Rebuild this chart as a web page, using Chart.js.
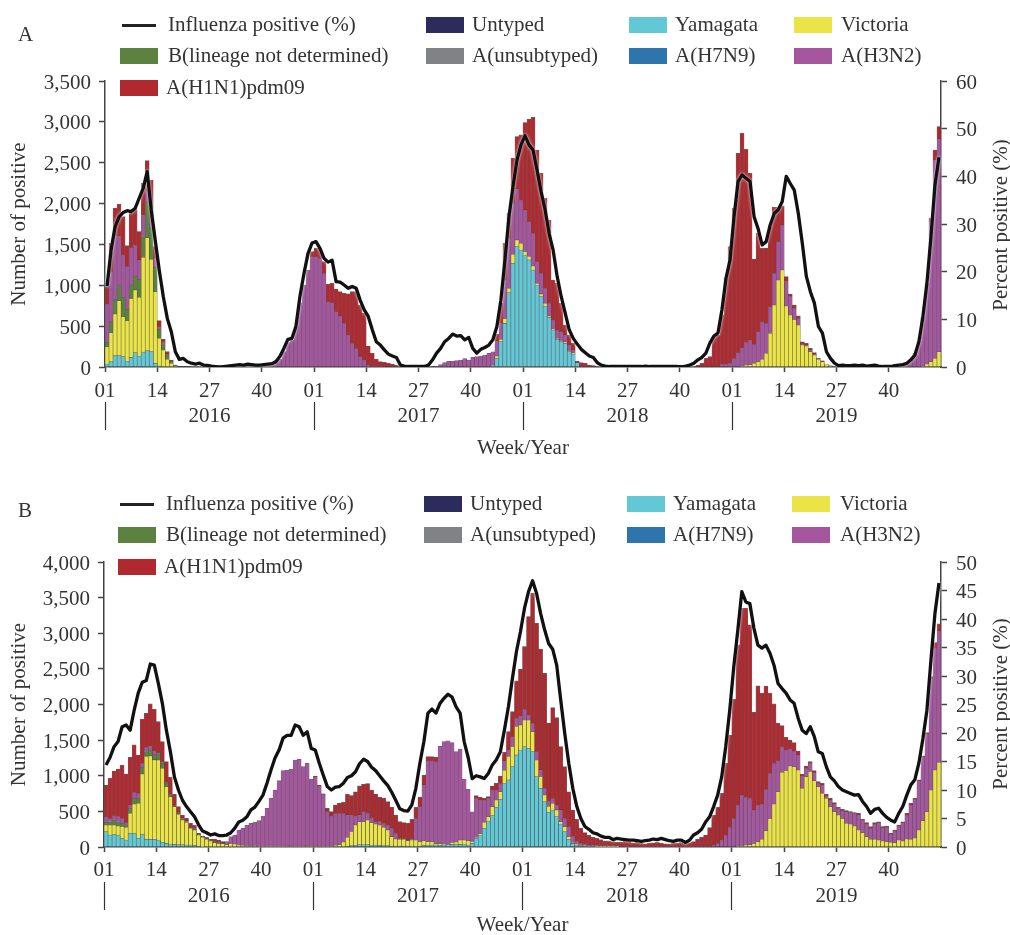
<!DOCTYPE html>
<html>
<head>
<meta charset="utf-8">
<script src="https://cdn.jsdelivr.net/npm/chart.js@4"></script>
<style>
html,body{margin:0;padding:0;background:#fff;}
#page{position:relative;width:1010px;height:935px;overflow:hidden;font-family:"Liberation Serif",serif;color:#333;font-size:21px;}
canvas{position:absolute;left:0;}
.t{position:absolute;white-space:nowrap;line-height:24px;}
.s{position:absolute;width:38px;height:16px;}
.l{position:absolute;width:34px;height:3px;background:#222;}
.r{position:absolute;white-space:nowrap;line-height:24px;transform:translate(-50%,-50%) rotate(-90deg);}
</style>
</head>
<body>
<div id="page">
<canvas id="cA" width="1010" height="465" style="top:0"></canvas>
<canvas id="cB" width="1010" height="470" style="top:470px"></canvas>
</div>
<script>
const years = ['2016','2017','2018','2019'];
const weeksPerYear = 52;
const seriesNames = ['Yamagata','Victoria','B(lineage not determined)','Untyped','A(unsubtyped)','A(H7N9)','A(H3N2)','A(H1N1)pdm09'];
const seriesColors = ['#62c8d6','#ebe446','#5b823f','#2b2c5c','#808285','#2e74ad','#a5569f','#b2282f'];
const lineName = 'Influenza positive (%)';

// Untyped, A(unsubtyped) and A(H7N9) are too small to read on either panel.
const untyped = [];
const aUnsubtyped = [];
const aH7N9 = [];

const aYamagata = [
37,65,139,139,126,65,118,175,135,184,200,188,45,
12,0,0,0,0,0,0,0,0,0,0,0,0,
0,0,0,0,0,0,0,0,0,0,0,0,0,
0,0,0,0,0,0,0,0,0,0,0,0,0,
0,0,0,0,0,0,0,0,0,0,0,0,0,
0,0,0,0,0,0,0,0,0,0,0,0,0,
0,0,0,0,0,0,0,0,0,0,0,0,0,
0,0,0,0,0,24,106,310,534,910,1269,1473,1432,
1371,1310,1187,1004,861,747,608,453,339,310,290,188,159,
53,0,0,0,0,0,0,0,0,0,0,0,0,
0,0,0,0,0,0,0,0,0,0,0,0,0,
0,0,0,0,0,0,0,0,0,0,0,0,0,
0,0,0,0,0,0,0,0,0,0,0,0,0,
0,0,0,0,0,0,0,0,0,0,0,0,0,
0,0,0,0,0,0,0,0,0,0,0,0,0,
0,0,0,0,0,0,0,0,0,0,0,0,0];
const aVictoria = [
212,355,510,673,490,502,722,767,718,1159,1383,1130,877,
339,208,94,45,12,0,0,0,0,0,0,0,0,
0,0,0,0,0,0,0,0,0,0,0,0,0,
0,0,0,0,0,0,0,0,0,0,0,0,0,
0,0,0,0,0,0,0,0,0,0,0,0,0,
0,0,0,0,0,0,0,0,0,0,0,0,0,
0,0,0,0,0,0,0,0,0,0,0,0,0,
0,0,0,0,0,0,29,29,61,53,110,82,82,
41,41,49,20,33,33,16,12,12,12,16,12,8,
0,0,0,0,0,0,0,0,0,0,0,0,0,
0,0,0,0,0,0,0,0,0,0,0,0,0,
0,0,0,0,0,0,0,0,0,0,0,0,0,
0,0,12,24,29,45,65,94,167,412,759,1065,1187,
747,636,583,514,269,257,188,147,94,65,37,16,0,
0,0,0,0,0,0,0,0,0,0,0,0,0,
0,0,0,0,0,0,0,0,12,37,65,106,188];
const aBLineage = [
53,135,180,192,237,139,163,171,220,253,428,379,298,
110,61,41,20,8,0,0,0,0,0,0,0,0,
0,0,0,0,0,0,0,0,0,0,0,0,0,
0,0,0,0,0,0,0,0,0,0,0,0,0,
0,0,0,0,0,0,0,0,0,0,0,0,0,
0,0,0,0,0,0,0,0,0,0,0,0,0,
0,0,0,0,0,0,0,0,0,0,0,0,0,
0,0,0,0,0,0,0,0,0,0,0,0,0,
0,0,0,0,0,0,0,0,0,0,0,0,0,
0,0,0,0,0,0,0,0,0,0,0,0,0,
0,0,0,0,0,0,0,0,0,0,0,0,0,
0,0,0,0,0,0,0,0,0,0,0,0,0,
0,0,0,0,0,0,0,0,0,0,0,0,0,
0,0,0,0,0,0,0,0,0,0,0,0,0,
0,0,0,0,0,0,0,0,0,0,0,0,0,
0,0,0,0,0,0,0,0,0,0,0,0,0];
const aH3N2 = [
469,604,767,592,510,522,457,371,237,257,147,122,110,
33,41,20,8,4,0,0,0,0,0,0,0,0,
0,0,0,0,0,0,0,0,0,0,0,0,0,
0,24,53,86,94,188,298,330,494,779,1004,1187,1350,
1350,1330,1146,800,787,677,624,534,392,290,228,126,86,
24,12,8,4,0,0,0,0,0,0,0,0,0,
0,0,0,0,12,29,53,69,73,78,86,102,86,
118,126,135,147,167,163,184,196,469,612,624,624,530,
510,428,400,265,253,184,155,110,102,110,86,69,41,
12,0,0,0,0,0,0,0,0,0,0,0,0,
0,0,0,0,0,0,0,0,0,0,0,0,0,
0,0,0,0,0,0,0,0,0,0,37,37,45,
106,175,228,273,294,233,367,461,367,326,388,469,551,
298,224,135,82,20,12,20,12,12,0,0,0,0,
0,0,0,0,0,0,0,0,0,0,0,0,0,
0,0,12,24,45,86,167,310,604,987,1714,2428,2603];
const aH1N1 = [
204,355,347,396,477,257,420,445,347,396,367,469,143,
73,29,33,12,0,0,0,0,0,0,0,0,0,
0,0,0,0,0,0,0,0,0,0,0,0,0,
0,0,0,0,0,0,0,0,0,0,0,0,61,
102,114,143,212,237,277,298,367,502,632,694,632,571,
233,155,86,61,57,45,33,20,12,0,0,0,0,
0,0,0,0,0,0,0,0,0,0,0,0,0,
0,0,0,0,0,0,82,245,449,306,551,641,796,
1069,1253,1420,1367,1224,1102,1020,490,571,347,122,122,82,
8,53,45,24,16,0,0,0,0,0,0,0,0,
0,0,0,0,0,0,0,0,0,0,0,0,0,
0,0,0,0,24,45,106,126,379,392,600,1049,1428,
1836,2440,2619,2366,2048,1040,1204,898,918,979,808,420,233,
61,33,41,29,20,20,20,16,0,12,0,0,0,
0,0,0,0,0,0,0,0,0,0,0,0,0,
0,0,0,0,0,0,0,0,0,0,41,122,151];
const aPercent = [
16.9,24.5,29.4,31.5,32.4,32.8,32.6,33.3,35.4,37.5,41,33,26.6,
20.3,14.8,10.2,7.4,3.2,1.6,1.8,1.1,.8,.6,.8,.4,.35,
.2,.1,0,.1,.2,.3,.4,.5,.4,.6,.5,.4,.4,
.5,.6,.7,1.1,2.2,3.9,5.8,6,8.5,14.8,19.6,23.8,26,
26.3,24.9,22.8,22,22.4,17.9,17.8,17.2,16.5,16.9,16.5,14,12,
10.6,7.8,5.3,4.6,3.6,2.7,2.3,2,.4,.2,.1,.1,.1,
.1,.1,.4,1.5,2.9,3.9,5.3,6,6.9,6.5,6.6,5.7,6.2,
3.9,2.9,3.7,4.1,4.6,5.7,8.5,14,22.4,31.5,37.8,43.4,46.6,
48.5,46.6,45.5,41.3,36.8,33,28,24.5,19,14.8,11.3,7.8,6,
4.8,3.7,3,2.3,2,.9,.4,.2,.1,.1,.1,.1,.1,
.1,.1,.1,.1,.2,.1,.1,.1,.1,.1,.1,.1,.1,
.05,.2,.4,.8,1.5,2,2.9,5,6.5,7.1,12,18.6,22.4,
31.5,38.9,40.3,39.6,38.9,31.5,29,25.6,26.3,29.8,32.2,33,34.7,
40,38.5,37.1,32.2,25.9,19,15.8,13.4,8.5,7.1,3.2,1.8,.8,
.3,.4,.3,.3,.4,.3,.4,.2,.3,.4,.2,.1,.1,
.1,.3,.4,.5,.8,1.5,2.5,5.3,10.6,17.6,27.3,38.2,44];

const bYamagata = [
215,168,178,168,122,98,192,192,122,178,108,108,108,
98,66,51,42,37,33,33,28,28,23,14,5,0,
0,0,0,0,0,0,0,0,0,0,0,0,0,
0,0,0,0,0,0,0,0,0,0,0,0,0,
0,0,0,0,0,0,0,0,14,19,23,33,33,
33,28,28,23,19,19,14,14,14,14,14,9,9,
14,23,19,28,28,23,28,33,37,33,37,42,28,
51,122,168,262,356,440,557,669,889,941,1128,1292,1362,
1409,1385,1338,987,824,636,487,519,426,323,215,108,51,
28,19,14,9,9,5,5,5,5,5,5,0,0,
0,0,0,0,0,0,0,0,0,0,0,0,0,
0,0,0,0,0,0,0,0,0,0,0,0,0,
0,0,0,0,0,0,0,0,0,0,0,0,0,
0,0,0,0,0,0,0,0,0,0,0,0,0,
0,0,0,0,0,0,0,0,0,0,0,0,0,
0,0,0,0,0,0,0,0,0,0,0,0,0];
const bVictoria = [
94,140,131,126,164,178,281,412,491,847,1161,1170,1114,
1123,1039,796,665,529,426,346,318,234,215,154,131,108,
84,61,51,47,33,51,42,28,23,19,14,19,14,
9,9,9,9,9,9,14,14,9,9,14,14,9,
14,14,9,9,14,23,33,70,122,197,285,323,323,
346,314,295,285,257,220,131,98,94,94,75,89,89,
61,66,56,47,23,28,9,5,23,37,61,56,61,
23,14,23,84,70,126,103,108,187,328,281,398,351,
374,398,281,234,164,94,80,94,94,33,70,37,9,
9,5,5,5,5,5,5,5,5,5,5,0,0,
0,0,0,0,0,0,0,0,0,0,0,0,0,
0,0,0,0,0,0,0,0,0,0,0,0,0,
0,14,19,28,33,51,75,108,229,402,604,777,1048,
1072,1137,1128,1081,824,987,1058,931,847,753,683,566,496,
449,402,332,323,295,239,201,145,108,108,98,84,75,
66,61,98,84,112,108,126,239,370,496,800,1081,1189];
const bBLineage = [
37,47,61,61,47,33,70,80,70,94,70,84,70,
84,70,47,23,14,14,9,9,9,9,9,9,9,
9,9,9,5,0,0,0,0,0,0,0,0,0,
0,0,0,0,0,0,0,0,0,0,0,0,0,
0,0,0,0,0,0,0,0,0,0,0,0,0,
0,0,0,0,0,0,0,0,0,0,0,0,0,
0,0,0,0,0,0,0,0,0,0,0,0,0,
0,0,0,0,0,0,0,0,0,0,0,0,0,
0,0,0,0,0,0,0,0,0,0,0,0,0,
0,0,0,0,0,0,0,0,0,0,0,0,0,
0,0,0,0,0,0,0,0,0,0,0,0,0,
0,0,0,0,0,0,0,0,0,0,0,0,0,
0,0,0,0,0,0,0,0,0,0,0,0,0,
0,0,0,0,0,0,0,0,0,0,0,0,0,
0,0,0,0,0,0,0,0,0,0,0,0,0,
0,0,0,0,0,0,0,0,0,0,0,0,0];
const bH3N2 = [
80,47,70,70,70,33,47,84,70,56,61,47,47,
23,23,14,9,9,9,9,9,9,9,5,5,5,
5,5,5,9,42,94,126,211,239,290,318,328,356,
426,534,674,791,922,1062,1067,1081,1212,1221,1114,1161,941,
973,842,730,487,421,449,440,402,314,225,126,94,140,
94,70,33,47,56,70,117,80,14,9,9,23,304,
491,782,1137,1137,1147,1367,1441,1451,1404,1268,1278,856,721,
421,548,468,314,257,234,140,117,131,94,140,117,117,
150,70,117,117,94,94,70,70,70,164,117,140,84,
37,28,23,14,14,14,9,9,9,9,9,9,9,
9,9,9,5,5,5,5,5,5,5,5,5,5,
5,5,5,5,9,9,9,14,28,51,98,168,276,
402,576,711,669,651,468,515,496,580,632,571,435,360,
290,239,220,211,164,117,117,112,47,117,33,94,108,
94,108,164,164,178,211,178,178,154,215,243,187,201,
112,164,197,257,337,482,543,679,889,1090,1568,1708,1844];
const bH1N1 = [
440,562,627,669,744,683,669,665,538,618,477,599,594,
431,281,290,239,150,84,51,37,51,47,9,5,14,
9,33,33,14,0,0,0,0,0,0,0,0,0,
0,0,0,0,0,0,0,0,0,0,0,0,0,
9,9,9,47,61,117,140,154,290,281,342,407,384,
417,388,388,342,351,328,295,257,234,225,234,267,154,
131,140,56,56,61,0,0,0,0,0,0,0,0,
0,37,37,23,23,56,94,103,126,257,351,524,665,
880,1381,1825,1802,1694,1615,1100,1273,1226,889,725,491,374,
314,211,159,136,108,98,84,66,66,56,47,60,70,
65,50,55,45,40,50,55,60,45,40,35,45,50,
60,37,56,70,99,127,159,257,421,505,655,1006,1296,
1671,2246,2621,2654,2434,1371,1671,1554,1451,1123,833,524,295,
178,126,117,56,33,33,23,28,23,23,23,23,19,
14,19,14,9,9,23,9,19,23,19,14,14,19,
14,14,14,14,23,23,14,23,19,19,23,80,98];
const bPercent = [
14.4,15.7,17.6,18.5,21.1,21.4,20.5,24,27,28.9,29.2,32.1,31.9,
28.7,25.2,20.5,16.7,12.3,10,8.2,7.1,6.2,5.3,3.9,2.8,2.5,
2.1,2.3,2,2,2.1,2.5,3.3,4.4,4.7,5.3,6.5,7,8,
9.1,11.2,13.5,15.6,17,19.1,19.6,19.6,21.4,21.1,19.6,20.2,17.3,
17,14.7,12.6,10.6,10,10.5,10.6,11.2,12.2,12.5,13.2,14.6,15.4,
15,14,13.4,12.5,11.6,10.8,9.6,8.2,6.7,6.4,6.3,7.4,10.3,
14.7,18.5,23.5,24.2,23.5,25.2,26.1,26.8,26.3,24.6,23.5,18.5,15.7,
12,12.5,12.3,12,12.9,14.4,15.3,16.7,20.5,24.6,29.6,34.3,37.8,
41.9,44.8,46.7,44.5,41,38.1,35.7,34.7,31.9,25.8,19.9,14.7,10.3,
7.1,5,3.6,3.1,2.5,2.3,1.9,1.7,1.7,1.3,1.5,1.4,1.3,
1.2,1.2,1.1,1,1.1,1.2,1.4,1.3,1.5,1.3,1.1,1,1.2,
1.2,.8,1.2,2.1,2.5,3.1,4.4,5.3,7.1,9.1,12.3,17.6,24,
31.6,38,44.8,43,42.7,38.4,35.4,34.9,35.4,34,31.9,28.7,27.8,
27,25.8,25.2,22.6,20.5,19.9,21.1,19.4,16.7,16.4,14.1,12.3,11.6,
10.6,10,9.7,9.4,9.1,9.2,8,7.1,5.9,6.6,6.8,5.9,5.2,
4.7,4.4,5.9,7.1,9.1,10.9,11.8,14.7,19,24,32.8,41,46.3];

const labels = [];
years.forEach(y=>{ for(let w=1;w<=weeksPerYear;w++) labels.push(y+'-'+String(w).padStart(2,'0')); });

const FONT = {family:'"Liberation Serif",serif', size:21};
const TXT = '#333', AX = '#444';

const halo = {
  id:'halo',
  beforeDatasetDraw(c,a){ if(c.data.datasets[a.index].type==='line'){ c.ctx.save(); c.ctx.shadowColor='rgba(255,255,255,.95)'; c.ctx.shadowBlur=3; } },
  afterDatasetDraw(c,a){ if(c.data.datasets[a.index].type==='line'){ c.ctx.restore(); } }
};

function makeChart(id, g, series, percent, maxL, stepL, maxR, stepR){
  const datasets = [{type:'line',label:lineName,data:percent,yAxisID:'yR',borderColor:'#111',borderWidth:3.3,pointRadius:0,tension:0,order:0,borderJoinStyle:'round'}];
  series.forEach((d,i)=>datasets.push({type:'bar',label:seriesNames[i],data:d,backgroundColor:seriesColors[i],borderColor:'rgba(50,50,50,.75)',borderWidth:.6,barPercentage:1,categoryPercentage:1,order:1,yAxisID:'y'}));
  return new Chart(document.getElementById(id),{
    data:{labels,datasets},
    plugins:[halo],
    options:{
      responsive:false,animation:false,devicePixelRatio:1,
      layout:{padding:{top:g.top,left:0,right:0,bottom:0}},
      plugins:{legend:{display:false},tooltip:{enabled:false},title:{display:false}},
      scales:{
        x:{type:'category',position:'bottom',stacked:true,offset:true,
          afterFit(s){s.height=35;},
          border:{color:AX,width:1.5},
          grid:{offset:true,drawOnChartArea:false,tickLength:5,tickWidth:1.5,tickColor:c=>c.index%13===0?AX:'rgba(0,0,0,0)'},
          ticks:{autoSkip:false,minRotation:0,maxRotation:0,padding:g.tickPad,labelOffset:-2,color:TXT,font:FONT,
            callback(v,i){return i%13===0?labels[i].slice(5):'';}}},
        xYear:{type:'category',position:'bottom',offset:true,
          afterFit(s){s.height=g.yearH;},
          border:{display:false},
          grid:{offset:true,drawOnChartArea:false,tickLength:28,tickWidth:1.2,tickColor:c=>c.index%weeksPerYear===0?'#333':'rgba(0,0,0,0)'},
          ticks:{autoSkip:false,minRotation:0,maxRotation:0,padding:-26,labelOffset:-2,color:TXT,font:FONT,
            callback(v,i){return i%weeksPerYear===26?labels[i].slice(0,4):'';}},
          title:{display:true,text:'Week/Year',color:TXT,font:FONT,padding:{top:0,bottom:g.titlePad}}},
        y:{position:'left',stacked:true,min:0,max:maxL,
          afterFit(s){s.width=g.left;},
          border:{color:AX,width:1.5},
          grid:{drawOnChartArea:false,tickLength:6,tickWidth:1.5,tickColor:AX},
          ticks:{autoSkip:false,stepSize:stepL,padding:8,labelOffset:2,color:TXT,font:FONT,callback:v=>v.toLocaleString('en-US')},
          title:{display:true,text:'Number of positive',color:TXT,font:FONT,padding:{top:7,bottom:0}}},
        yR:{position:'right',min:0,max:maxR,
          afterFit(s){s.width=g.right;},
          border:{color:AX,width:1.5},
          grid:{drawOnChartArea:false,tickLength:6,tickWidth:1.5,tickColor:AX},
          ticks:{autoSkip:false,stepSize:stepR,padding:9,labelOffset:2,color:TXT,font:FONT}}
      }
    }
  });
}

makeChart('cA',{top:81,left:105,right:69,yearH:63,tickPad:7,titlePad:4},
  [aYamagata,aVictoria,aBLineage,untyped,aUnsubtyped,aH7N9,aH3N2,aH1N1],aPercent,3500,500,60,10);
makeChart('cB',{top:92,left:104,right:69,yearH:58,tickPad:6,titlePad:2},
  [bYamagata,bVictoria,bBLineage,untyped,aUnsubtyped,aH7N9,bH3N2,bH1N1],bPercent,4000,500,50,5);

// Legends and panel letters as real text
const page = document.getElementById('page');
function text(s,x,yc,cls){const e=document.createElement('div');e.className=cls||'t';e.textContent=s;e.style.left=x+'px';e.style.top=(cls==='r'?yc:yc-12)+'px';page.appendChild(e);}
function swatch(c,x,yc){const e=document.createElement('div');e.className='s';e.style.background=c;e.style.left=x+'px';e.style.top=(yc-8)+'px';page.appendChild(e);}
function legend(d){
  const ln=document.createElement('div');ln.className='l';ln.style.left=d.x0+'px';ln.style.top=(d.r1-1)+'px';page.appendChild(ln);
  text(lineName,d.t0,d.r1-1);
  const place=(idx,sx,tx,row)=>{swatch(seriesColors[idx],sx,row);text(seriesNames[idx],tx,row-1);};
  place(3,d.s1,d.t1,d.r1);place(0,d.s2,d.t2,d.r1);place(1,d.s3,d.t3,d.r1);
  place(2,d.s0,d.t0,d.r2);place(4,d.s1,d.t1,d.r2);place(5,d.s2,d.t2,d.r2);place(6,d.s3,d.t3,d.r2);
  place(7,d.s0,d.t0-2,d.r3);
}
legend({x0:122,s0:120,t0:168,s1:426,t1:472,s2:629,t2:675,s3:794,t3:841,r1:25,r2:56,r3:88});
legend({x0:120,s0:118,t0:166,s1:424,t1:470,s2:627,t2:673,s3:792,t3:840,r1:504,r2:535,r3:567});
text('A',18,34);
text('B',18,510);
text('Percent positive (%)',1000,225,'r');
text('Percent positive (%)',1000,704,'r');
</script>
</body>
</html>
